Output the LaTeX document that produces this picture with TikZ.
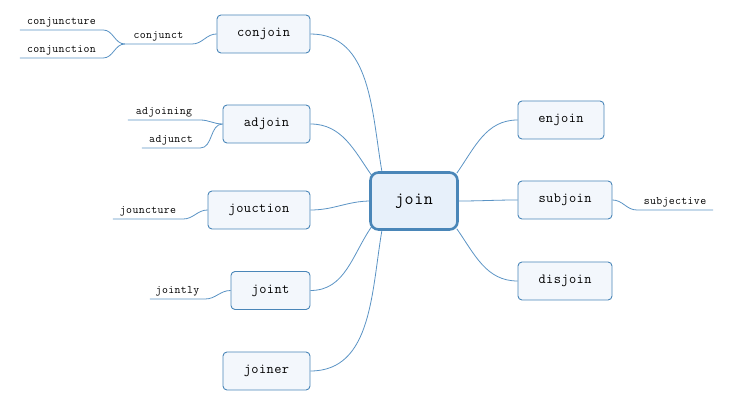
\documentclass[tikz,border=0pt]{standalone}
\usepackage{fontspec}
\setmonofont[LetterSpace=3]{Latin Modern Mono}
\usepackage{tikz}
\usetikzlibrary{positioning}
\usetikzlibrary{backgrounds}
\usepackage{xcolor}
\definecolor{edgeblue}{HTML}{4A86B8}
\definecolor{linkblue}{HTML}{5A93C4}
\definecolor{boxfill}{HTML}{F3F7FC}
\definecolor{rootfill}{HTML}{E7F0FA}

\begin{document}
\begin{tikzpicture}[x=1pt,y=1pt,
  topic/.style={draw=edgeblue,fill=boxfill,rounded corners=4pt,line width=0.9pt,
    minimum height=38pt,inner sep=0pt,font=\ttfamily\fontsize{14}{16}\selectfont},
  root/.style={draw=edgeblue,fill=rootfill,rounded corners=8pt,line width=2.6pt,
    minimum width=87pt,minimum height=57pt,font=\ttfamily\fontsize{17.5}{20}\selectfont},
  leaf/.style={anchor=south,inner xsep=0pt,inner ysep=3pt,
    font=\ttfamily\fontsize{11.5}{13}\selectfont},
  branch/.style={draw=linkblue,line width=0.8pt}]

  \useasboundingbox (0,0) rectangle (733,401);

  % centre
  \node[root] (join) at (414,200) {join};

  % left topics
  \node[topic,minimum width=93pt]  (conjoin) at (263.5,367) {conjoin};
  \node[topic,minimum width=87pt]  (adjoin)  at (266.5,277) {adjoin};
  \node[topic,minimum width=102pt] (jouction) at (259,191) {jouction};
  \node[topic,minimum width=79pt]  (joint)   at (270.5,110.5) {joint};
  \node[topic,minimum width=87pt]  (joiner)  at (266.5,30) {joiner};

  % right topics
  \node[topic,minimum width=86pt] (enjoin)  at (561,281) {enjoin};
  \node[topic,minimum width=94pt] (subjoin) at (565,201) {subjoin};
  \node[topic,minimum width=94pt] (disjoin) at (565,120) {disjoin};

  % subtopics
  \node[leaf,minimum width=83pt] (conjuncture) at (61.5,371) {conjuncture};
  \node[leaf,minimum width=83pt] (conjunction) at (61.5,343) {conjunction};
  \node[leaf,minimum width=67pt] (conjunct)    at (158.5,357) {conjunct};
  \node[leaf,minimum width=72pt] (adjoining)   at (164,281) {adjoining};
  \node[leaf,minimum width=58pt] (adjunct)     at (171,253) {adjunct};
  \node[leaf,minimum width=70pt] (jouncture)   at (148,182) {jouncture};
  \node[leaf,minimum width=55pt] (jointly)     at (177.5,102) {jointly};
  \node[leaf,minimum width=76pt] (subjective)  at (675,191) {subjective};

  \begin{scope}[on background layer]
    % centre to topics
    \draw[branch] ([shift={(13,-2)}]join.north west) to[out=100,in=0] (conjoin.east);
    \draw[branch] ([shift={(3,-5)}]join.north west) to[out=125,in=0] (adjoin.east);
    \draw[branch] ([shift={(2,0)}]join.west) to[out=180,in=0] (jouction.east);
    \draw[branch] ([shift={(3,5)}]join.south west) to[out=235,in=0] (joint.east);
    \draw[branch] ([shift={(13,2)}]join.south west) to[out=260,in=0] (joiner.east);
    \draw[branch] ([shift={(-2,-2)}]join.north east) to[out=55,in=180] (enjoin.west);
    \draw[branch] (join.east) to[out=0,in=180] (subjoin.west);
    \draw[branch] ([shift={(-2,2)}]join.south east) to[out=-55,in=180] (disjoin.west);

    % topics to subtopics
    \draw[branch] (conjuncture.south west) -- (conjuncture.south east)
      to[out=0,in=180] (conjunct.south west);
    \draw[branch] (conjunction.south west) -- (conjunction.south east)
      to[out=0,in=180] (conjunct.south west);
    \draw[branch] (conjunct.south west) -- (conjunct.south east)
      to[out=0,in=180] (conjoin.west);
    \draw[branch] (adjoining.south west) -- (adjoining.south east)
      to[out=0,in=180] (adjoin.west);
    \draw[branch] (adjunct.south west) -- (adjunct.south east)
      to[out=0,in=180] (adjoin.west);
    \draw[branch] (jouncture.south west) -- (jouncture.south east)
      to[out=0,in=180] (jouction.west);
    \draw[branch] (jointly.south west) -- (jointly.south east)
      to[out=0,in=180] (joint.west);
    \draw[branch] (subjective.south east) -- (subjective.south west)
      to[out=180,in=0] (subjoin.east);
  \end{scope}

\end{tikzpicture}
\end{document}
